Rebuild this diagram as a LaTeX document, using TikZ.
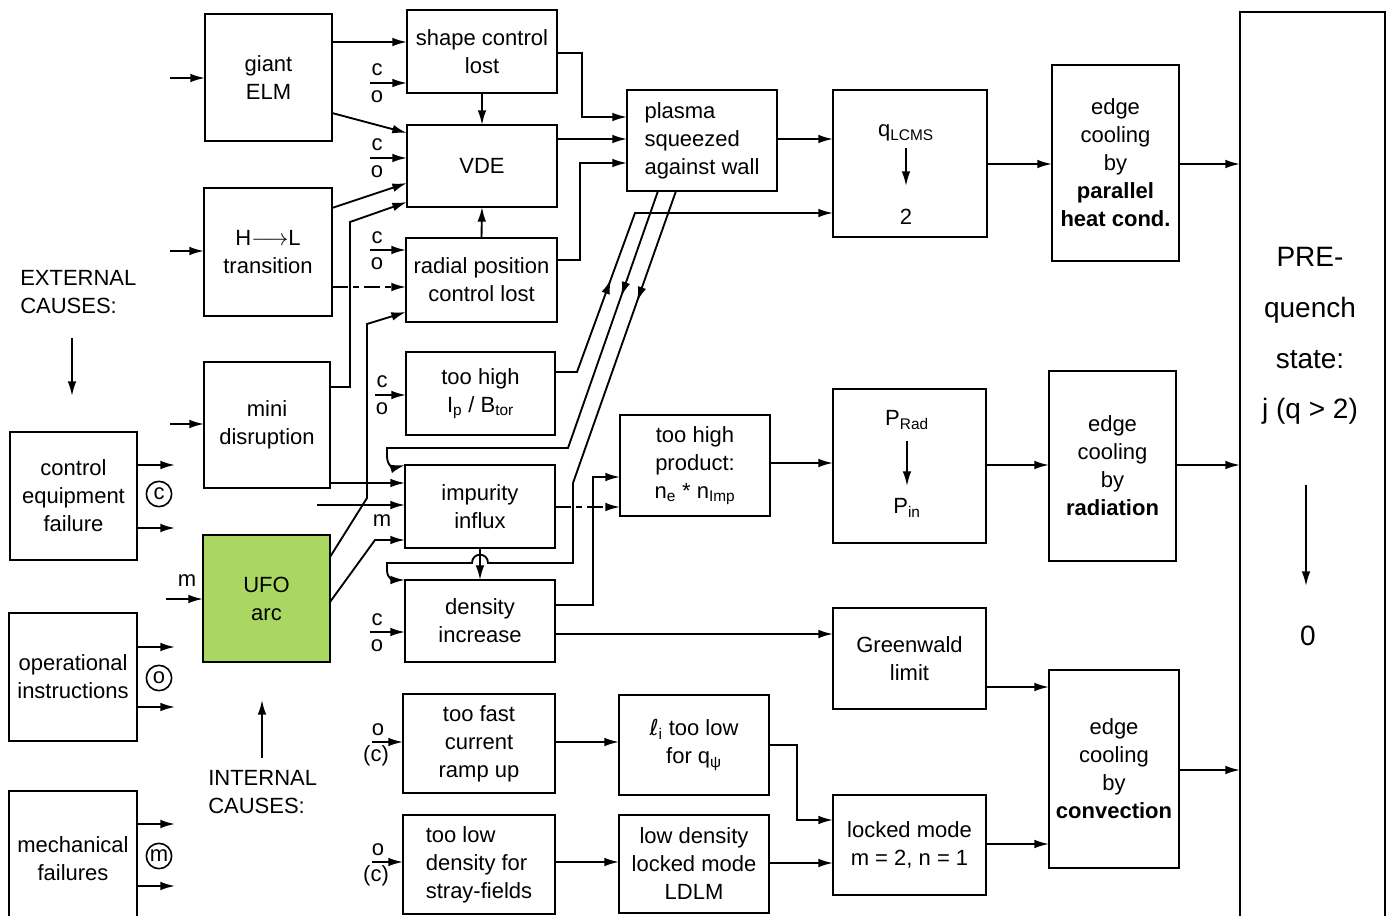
\documentclass[tikz,border=0pt]{standalone}
\usepackage{fontspec}
\setmainfont{Liberation Sans}
\newfontfamily\djv{DejaVu Sans}
\usetikzlibrary{arrows.meta,decorations.markings}
\newcommand{\fs}{\fontsize{16.5}{21}\selectfont}
\newcommand{\bigfs}{\fontsize{21}{38}\selectfont}
\newcommand{\bx}[7][]{\node[box,minimum width={0.75pt*(#5-#3)},minimum height={0.75pt*(#6-#4)},#1] (#2) at ({(#3+#5)/2},{(#4+#6)/2}) {#7};}
\definecolor{ufogreen}{RGB}{170,214,98}
\begin{document}
\begin{tikzpicture}[x=0.75pt,y=-0.75pt,
 box/.style={draw,line width=1.8pt,inner sep=0pt,outer sep=0pt,align=center,font=\fs},
 con/.style={line width=1.4pt,-{Latex[length=11pt,width=6.5pt]}},
 lab/.style={font=\fs,inner sep=0pt},
 circ/.style={draw,circle,line width=1.2pt,minimum size=19pt,inner sep=0pt,font=\fs},
 dd/.style={dash pattern=on 12pt off 4pt on 4pt off 4pt},
 midarr/.style={postaction={decorate},decoration={markings,mark=at position #1 with {\arrow{Latex[length=11pt,width=6.5pt]}}}},
]
\useasboundingbox (0,0) rectangle (1393,916);

% ---------- boxes ----------
\bx{ceq}{10}{432}{137}{560}{control\\equipment\\failure}
\bx{opi}{9}{613}{137}{741}{operational\\instructions}
\bx{mech}{9}{791}{137}{926}{mechanical\\failures}
\bx{giant}{205}{14}{332}{141}{giant\\ELM}
\bx{hl}{204}{188}{332}{316}{H$\longrightarrow$L\\transition}
\bx{mini}{204}{362}{330}{488}{mini\\disruption}
\bx[fill=ufogreen]{ufo}{203}{535}{330}{662}{UFO\\arc}
\bx{shape}{407}{10}{557}{93}{shape control\\lost}
\bx{vde}{407}{125}{557}{207}{VDE}
\bx{rad}{406}{238}{557}{322}{radial position\\control lost}
\bx{ip}{406}{352}{555}{435}{too high\\I\textsubscript{p} / B\textsubscript{tor}}
\bx{imp}{405}{465}{555}{548}{impurity\\influx}
\bx{den}{405}{580}{555}{662}{density\\increase}
\bx{ramp}{403}{694}{555}{793}{too fast\\current\\ramp up}
\bx[align=left]{stray}{403}{815}{555}{914}{too low\\density for\\stray-fields}
\bx[align=left]{plasma}{627}{90}{777}{191}{plasma\\squeezed\\against wall}
\bx{prod}{620}{415}{770}{516}{too high\\product:\\n\textsubscript{e} * n\textsubscript{Imp}}
\bx{li}{619}{695}{769}{795}{{\djv ℓ}\textsubscript{i} too low\\for q\textsubscript{ψ}}
\bx{ldlm}{619}{815}{769}{913}{low density\\locked mode\\LDLM}
\bx{qlcms}{833}{90}{987}{237}{}
\bx{prad}{833}{389}{986}{543}{}
\bx{gw}{833}{608}{986}{709}{Greenwald\\limit}
\bx{lock}{833}{795}{986}{895}{locked mode\\m = 2, n = 1}
\bx{par}{1052}{65}{1179}{261}{edge\\cooling\\by\\\textbf{parallel}\\\textbf{heat cond.}}
\bx{radn}{1049}{371}{1176}{561}{edge\\cooling\\by\\\textbf{radiation}}
\bx{conv}{1049}{670}{1179}{868}{edge\\cooling\\by\\\textbf{convection}}
\bx{pre}{1240}{12}{1385}{926}{}

% ---------- texts inside boxes ----------
\node[lab] (qtxt) at (906,133) {q\textsubscript{LCMS}};
\coordinate (qa1) at (906,148); \coordinate (qa2) at (906,186);
\draw[con] (qa1) -- (qa2);
\node[lab] (qtwo) at (906,217) {2};
\node[lab] (ptxt) at (907,420) {P\textsubscript{Rad}};
\coordinate (pa1) at (907,441); \coordinate (pa2) at (907,486);
\draw[con] (pa1) -- (pa2);
\node[lab] (pin) at (907,508) {P\textsubscript{in}};
\node[font=\bigfs,align=center,inner sep=0pt] (pretxt) at (1310,336) {PRE-\\quench\\state:\\j (q > 2)};
\coordinate (ra1) at (1306,485); \coordinate (ra2) at (1306,586);
\draw[con] (ra1) -- (ra2);
\node[font=\bigfs,inner sep=0pt] (zero) at (1308,636) {0};

% ---------- causes ----------
\node[lab,align=left,anchor=west] (ext) at (20,292) {EXTERNAL\\CAUSES:};
\coordinate (ea1) at (72,338); \coordinate (ea2) at (72,396);
\draw[con] (ea1) -- (ea2);
\node[lab,align=left,anchor=west] (int) at (208,792) {INTERNAL\\CAUSES:};
\coordinate (ia1) at (262,758); \coordinate (ia2) at (262,700);
\draw[con] (ia1) -- (ia2);

\coordinate (ce1) at (175,465); \draw[con] (ceq.east |- ce1) -- (ce1);
\coordinate (ce2) at (175,528); \draw[con] (ceq.east |- ce2) -- (ce2);
\node[circ] (cc) at (159,494) {c};
\coordinate (oe1) at (175,647); \draw[con] (opi.east |- oe1) -- (oe1);
\coordinate (oe2) at (175,707); \draw[con] (opi.east |- oe2) -- (oe2);
\node[circ] (oc) at (159,678) {o};
\coordinate (me1) at (175,824); \draw[con] (mech.east |- me1) -- (me1);
\coordinate (me2) at (175,886); \draw[con] (mech.east |- me2) -- (me2);
\node[circ] (mc) at (159,856) {m};

% ---------- inputs to internal causes ----------
\coordinate (in1) at (170,78); \draw[con] (in1) -- (giant.west |- in1);
\coordinate (in2) at (170,251); \draw[con] (in2) -- (hl.west |- in2);
\coordinate (in3) at (170,424); \draw[con] (in3) -- (mini.west |- in3);
\coordinate (in4) at (166,599); \draw[con] (in4) -- (ufo.west |- in4);
\node[lab] (mlab0) at (187,581) {m};

% ---------- c/o inputs ----------
\coordinate (co1) at (370,83); \draw[con] (co1) -- (shape.west |- co1);
\node[lab] (c1) at (377,70) {c}; \node[lab] (o1) at (377,97) {o};
\coordinate (co2) at (370,158); \draw[con] (co2) -- (vde.west |- co2);
\node[lab] (c2) at (377,145) {c}; \node[lab] (o2) at (377,172) {o};
\coordinate (co3) at (370,250); \draw[con] (co3) -- (rad.west |- co3);
\node[lab] (c3) at (377,238) {c}; \node[lab] (o3) at (377,264) {o};
\coordinate (co4) at (375,395); \draw[con] (co4) -- (ip.west |- co4);
\node[lab] (c4) at (382,382) {c}; \node[lab] (o4) at (382,409) {o};
\coordinate (co5) at (370,632); \draw[con] (co5) -- (den.west |- co5);
\node[lab] (c5) at (377,620) {c}; \node[lab] (o5) at (377,646) {o};
\coordinate (co6) at (372,742); \draw[con] (co6) -- (ramp.west |- co6);
\node[lab] (o6) at (378,730) {o}; \node[lab] (c6) at (376,756) {(c)};
\coordinate (co7) at (372,862); \draw[con] (co7) -- (stray.west |- co7);
\node[lab] (o7) at (378,850) {o}; \node[lab] (c7) at (376,876) {(c)};

% ---------- connectors ----------
\draw[con] (giant.east |- 0,42) -- (shape.west |- 0,42);
\draw[con] (giant.east |- 0,113) -- (vde.west |- 0,133);
\draw[con] (hl.east |- 0,208) -- (vde.west |- 0,183);
\draw[con] (mini.east |- 0,387) -- (350,387) -- (350,222) -- (vde.west |- 0,202);
\draw[con] (shape.south) -- (vde.north);
\draw[con] (rad.north) -- (vde.south);
\draw[con,dd] (hl.east |- 0,287) -- (rad.west |- 0,287);
\draw[con] (ufo.east |- 0,557) -- (367,498) -- (367,324) -- (rad.west |- 0,312);
\draw[con] (mini.east |- 0,483) -- (imp.west |- 0,483);
\coordinate (m1) at (317,505); \draw[con] (m1) -- (imp.west |- m1);
\node[lab] (mlab1) at (382,521) {m};
\draw[con] (ufo.east |- 0,602) -- (375,540) -- (imp.west |- 0,540);
\draw[con,midarr=0.23] (plasma.south -| 658,0) -- (568,448) -- (387,448) -- (387,456) .. controls (387,466) and (394,468) .. (imp.north west);
\draw[con,midarr=0.19] (plasma.south -| 676,0) -- (573,483) -- (573,563) -- (488,563) .. controls (488,552) and (472,552) .. (472,563) -- (387,563) -- (387,570) .. controls (387,579) and (394,580) .. (den.north west);
\draw[con,midarr=0.31] (ip.east |- 0,372) -- (577,372) -- (635,213) -- (qlcms.west |- 0,213);
\draw[con] (shape.east |- 0,53) -- (582,53) -- (582,117) -- (plasma.west |- 0,117);
\draw[con] (vde.east |- 0,139) -- (plasma.west |- 0,139);
\draw[con] (rad.east |- 0,260) -- (580,260) -- (580,163) -- (plasma.west |- 0,163);
\draw[con] (plasma.east |- 0,139) -- (qlcms.west |- 0,139);
\draw[con] (qlcms.east |- 0,164) -- (par.west |- 0,164);
\draw[con] (par.east |- 0,164) -- (pre.west |- 0,164);
\draw[con,dd] (imp.east |- 0,507) -- (prod.west |- 0,507);
\draw[con] (den.east |- 0,605) -- (593,605) -- (593,477) -- (prod.west |- 0,477);
\draw[con] (den.east |- 0,634) -- (gw.west |- 0,634);
\draw[con] (imp.south) -- (den.north);
\draw[con] (prod.east |- 0,463) -- (prad.west |- 0,463);
\draw[con] (prad.east |- 0,465) -- (radn.west |- 0,465);
\draw[con] (radn.east |- 0,465) -- (pre.west |- 0,465);
\draw[con] (gw.east |- 0,687) -- (conv.west |- 0,687);
\draw[con] (conv.east |- 0,770) -- (pre.west |- 0,770);
\draw[con] (lock.east |- 0,844) -- (conv.west |- 0,844);
\draw[con] (ramp.east |- 0,742) -- (li.west |- 0,742);
\draw[con] (li.east |- 0,745) -- (797,745) -- (797,820) -- (lock.west |- 0,820);
\draw[con] (stray.east |- 0,862) -- (ldlm.west |- 0,862);
\draw[con] (ldlm.east |- 0,863) -- (lock.west |- 0,863);
\end{tikzpicture}
\end{document}
